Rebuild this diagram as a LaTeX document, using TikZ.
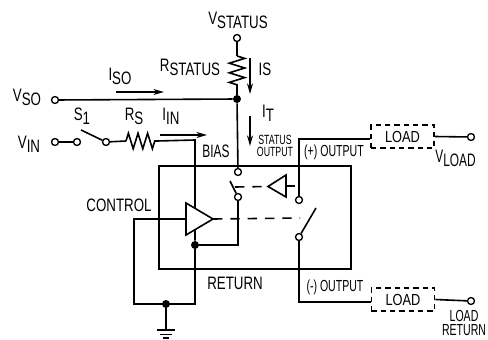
\documentclass[tikz,border=0pt]{standalone}
\usepackage{fontspec}
\setmainfont{Liberation Sans}[FakeStretch=0.8]
\newfontfamily\mainfont{Liberation Sans}[FakeStretch=0.74]
\newfontfamily\tightfont{Liberation Sans}[FakeStretch=0.66]
\usetikzlibrary{arrows.meta,decorations.pathmorphing}
\newcommand{\subtxt}[2]{#1\lower3pt\hbox{#2}}
\tikzset{
  wire/.style={line width=1.2pt},
  dashwire/.style={line width=1.2pt,dash pattern=on 7pt off 6pt},
  flow/.style={line width=1.2pt,-{Stealth[length=8pt,width=4.5pt]}},
  term/.style={circle,draw,line width=1pt,fill=white,inner sep=0pt,minimum size=5.2pt},
  junc/.style={circle,fill=black,inner sep=0pt,minimum size=6pt},
  lab/.style={inner sep=0.75pt,font=\mainfont\fontsize{13.5}{14}\selectfont,align=center},
  narrowlab/.style={inner sep=0.75pt,font=\tightfont\fontsize{13.5}{14}\selectfont,align=center},
  minilab/.style={inner sep=0.75pt,font=\tightfont\fontsize{12}{11}\selectfont,align=center},
  tinylab/.style={inner sep=0.75pt,font=\tightfont\fontsize{10}{9.4}\selectfont,align=center},
  loadbox/.style={draw,line width=1.2pt,dash pattern=on 4pt off 3pt,inner sep=0pt,minimum width=47.5pt,minimum height=17.5pt,font=\fontsize{12}{14}\selectfont},
  zig/.style={line width=1.2pt,decorate,decoration={zigzag,segment length=7.2pt,amplitude=5.8pt}},
}
\begin{document}
\begin{tikzpicture}[x=0.75pt,y=0.75pt,yscale=-1,xscale=1]
\useasboundingbox (0,0) rectangle (488,339);

%Terminals
\node (vstatus) [term] at (237,38) {};
\node (vso) [term] at (55,100) {};
\node (vin) [term] at (55,142) {};
\node (sonea) [term] at (77,142) {};
\node (soneb) [term] at (106,142) {};
\node (stattop) [term] at (238,172) {};
\node (statbot) [term] at (238,197) {};
\node (outtop) [term] at (299,200) {};
\node (outbot) [term] at (299,237) {};
\node (vload) [term] at (471,137) {};
\node (loadret) [term] at (471,301) {};

%Junctions
\node (jstatus) [junc] at (237,99) {};
\node (jamp) [junc] at (195,245) {};
\node (jgnd) [junc] at (166,304) {};

%Coordinates
\coordinate (rstattop) at (237,56);
\coordinate (rstatbot) at (237,86);
\coordinate (rsleft) at (126,141);
\coordinate (rsright) at (157,141);
\coordinate (biastop) at (195,140);
\coordinate (plustop) at (299,139);
\coordinate (minusbot) at (299,302);
\coordinate (ctrlin) at (186,219);
\coordinate (ctrlleft) at (134,219);
\coordinate (gndleft) at (134,304);
\coordinate (gndright) at (195,304);
\coordinate (gndbar) at (166,330);
\coordinate (bladeone) at (81,130);
\coordinate (bladetwo) at (230,181);
\coordinate (bladethree) at (316,208);
\coordinate (bladedash) at (235,187);
\coordinate (mainapex) at (213,219);
\coordinate (maindash) at (300,218);
\coordinate (miniapex) at (268,186.5);
\coordinate (minidash) at (298,186);

%Shape: Device box
\draw (255,217.5) node (device) [draw,line width=1.2pt,inner sep=0pt,minimum width=144pt,minimum height=77.25pt] {};

%Load boxes
\draw (402.5,136.5) node (loadup) [loadbox] {LOAD};
\draw (403,299.5) node (loaddn) [loadbox] {LOAD};

%Straight Lines
\draw [wire] (vstatus) -- (rstattop);
\draw [wire] (rstatbot) -- (jstatus);
\draw [wire] (vso) -- (jstatus);
\draw [wire] (jstatus) -- (stattop);
\draw [wire] (vin) -- (sonea);
\draw [wire] (soneb) -- (rsleft);
\draw [wire] (rsright) -- (biastop) -- (jamp);
\draw [wire] (jamp) -- (gndright) -- (gndleft) -- (ctrlleft) -- (ctrlin);
\draw [wire] (jamp) -| (statbot);
\draw [wire] (jgnd) -- (gndbar);
\draw [wire] (loadup.west |- plustop) -- (plustop) -- (outtop);
\draw [wire] (outbot) -- (minusbot) -- (loaddn.west |- minusbot);
\draw [wire] (loadup.east) -- (vload);
\draw [wire] (loaddn.east) -- (loadret);

%Switch blades
\draw [wire] (bladeone) -- (soneb);
\draw [wire] (bladetwo) -- (statbot);
\draw [wire] (bladethree) -- (outbot);

%Resistors
\draw [zig] (rstattop) -- (rstatbot);
\draw [zig] (rsleft) -- (rsright);

%Dashed links
\draw [dashwire] (mainapex) -- (maindash);
\draw [dashwire] (bladedash) -- (miniapex);
\draw [dashwire] (286,186) -- (minidash);

%Amplifiers
\draw [wire,fill=white] (186,203) -- (mainapex) -- (186,235) -- cycle;
\draw [wire,fill=white] (286,175) -- (miniapex) -- (286,197) -- cycle;

%Ground
\draw [wire] (157,330) -- (175,330);
\draw [wire] (160,334.5) -- (172,334.5);
\draw [wire] (163,338) -- (169,338);

%Current arrows
\draw [flow] (116,92) -- (164,92);
\draw [flow] (160,135) -- (207,135);
\draw [flow] (250,58) -- (250,94);
\draw [flow] (250,116) -- (250,146);

% Text Node
\draw (238,20) node (tstatus) [lab] {\subtxt{V}{STATUS}};
\draw (190,67) node (trstatus) [lab] {\subtxt{R}{STATUS}};
\draw (265,69) node (tis) [lab] {IS};
\draw (268,113) node (tit) [lab] {\subtxt{I}{T}};
\draw (120,76) node (tiso) [lab] {\subtxt{I}{SO}};
\draw (27,97) node (tvso) [lab] {\subtxt{V}{SO}};
\draw (29,144) node (tvin) [lab] {\subtxt{V}{IN}};
\draw (82,116) node (tsone) [lab] {\subtxt{S}{1}};
\draw (134,116) node (trs) [lab] {\subtxt{R}{S}};
\draw (171,116) node (tiin) [lab] {\subtxt{I}{IN}};
\draw (216,151) node (tbias) [narrowlab] {BIAS};
\draw (275,146) node (tstatout) [tinylab] {STATUS\\OUTPUT};
\draw (334,152) node (tplus) [minilab] {(+) OUTPUT};
\draw (455.5,158) node (tvload) [narrowlab] {\subtxt{V}{LOAD}};
\draw (119,205) node (tctrl) [lab] {CONTROL};
\draw (235,283) node (tret) [lab] {RETURN};
\draw (335,287) node (tminus) [minilab] {(-) OUTPUT};
\draw (464,323) node (tloadret) [minilab] {LOAD\\RETURN};

\end{tikzpicture}
\end{document}
